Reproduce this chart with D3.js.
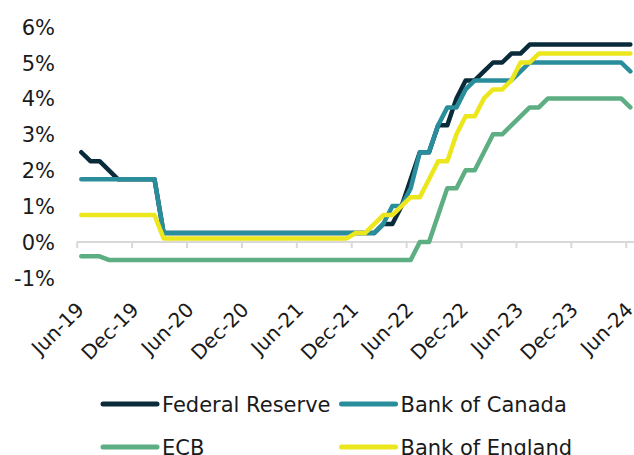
<!DOCTYPE html>
<html>
<head>
<meta charset="utf-8">
<script src="https://cdn.jsdelivr.net/npm/d3@7"></script>
<style>
  html, body { margin: 0; padding: 0; background: #fff; }
  svg { display: block; }
  text { font-family: "DejaVu Sans", Verdana, sans-serif; fill: #1a1a1a; }
</style>
</head>
<body>
<svg id="chart" width="634" height="455"></svg>
<script>
// Month-end policy rates, Jun-19 to Jun-24 (%)
const months = [
  "Jun-19","Jul-19","Aug-19","Sep-19","Oct-19","Nov-19","Dec-19",
  "Jan-20","Feb-20","Mar-20","Apr-20","May-20","Jun-20","Jul-20","Aug-20","Sep-20","Oct-20","Nov-20","Dec-20",
  "Jan-21","Feb-21","Mar-21","Apr-21","May-21","Jun-21","Jul-21","Aug-21","Sep-21","Oct-21","Nov-21","Dec-21",
  "Jan-22","Feb-22","Mar-22","Apr-22","May-22","Jun-22","Jul-22","Aug-22","Sep-22","Oct-22","Nov-22","Dec-22",
  "Jan-23","Feb-23","Mar-23","Apr-23","May-23","Jun-23","Jul-23","Aug-23","Sep-23","Oct-23","Nov-23","Dec-23",
  "Jan-24","Feb-24","Mar-24","Apr-24","May-24","Jun-24"
];

const tickLabels = ["Jun-19","Dec-19","Jun-20","Dec-20","Jun-21","Dec-21","Jun-22","Dec-22","Jun-23","Dec-23","Jun-24"];
const yTicks = [-1, 0, 1, 2, 3, 4, 5, 6];

const federalReserve = [
  2.5, 2.25, 2.25, 2.0, 1.75, 1.75, 1.75, 1.75, 1.75, 0.25,
  0.25, 0.25, 0.25, 0.25, 0.25, 0.25, 0.25, 0.25, 0.25, 0.25, 0.25, 0.25,
  0.25, 0.25, 0.25, 0.25, 0.25, 0.25, 0.25, 0.25, 0.25, 0.25, 0.25,
  0.5, 0.5, 1.0, 1.75, 2.5, 2.5, 3.25, 3.25, 4.0, 4.5,
  4.5, 4.75, 5.0, 5.0, 5.25, 5.25, 5.5,
  5.5, 5.5, 5.5, 5.5, 5.5, 5.5, 5.5, 5.5, 5.5, 5.5, 5.5
];

const bankOfCanada = [
  1.75, 1.75, 1.75, 1.75, 1.75, 1.75, 1.75, 1.75, 1.75, 0.25,
  0.25, 0.25, 0.25, 0.25, 0.25, 0.25, 0.25, 0.25, 0.25, 0.25, 0.25, 0.25,
  0.25, 0.25, 0.25, 0.25, 0.25, 0.25, 0.25, 0.25, 0.25, 0.25, 0.25,
  0.5, 1.0, 1.0, 1.5, 2.5, 2.5, 3.25, 3.75, 3.75, 4.25,
  4.5, 4.5, 4.5, 4.5, 4.5, 4.75, 5.0,
  5.0, 5.0, 5.0, 5.0, 5.0, 5.0, 5.0, 5.0, 5.0, 5.0, 4.75
];

const ecb = [
  -0.4, -0.4, -0.4, -0.5, -0.5, -0.5, -0.5, -0.5, -0.5, -0.5,
  -0.5, -0.5, -0.5, -0.5, -0.5, -0.5, -0.5, -0.5, -0.5, -0.5, -0.5, -0.5,
  -0.5, -0.5, -0.5, -0.5, -0.5, -0.5, -0.5, -0.5, -0.5, -0.5, -0.5,
  -0.5, -0.5, -0.5, -0.5, 0.0, 0.0, 0.75, 1.5, 1.5, 2.0,
  2.0, 2.5, 3.0, 3.0, 3.25, 3.5, 3.75,
  3.75, 4.0, 4.0, 4.0, 4.0, 4.0, 4.0, 4.0, 4.0, 4.0, 3.75
];

const bankOfEngland = [
  0.75, 0.75, 0.75, 0.75, 0.75, 0.75, 0.75, 0.75, 0.75, 0.1,
  0.1, 0.1, 0.1, 0.1, 0.1, 0.1, 0.1, 0.1, 0.1, 0.1, 0.1, 0.1,
  0.1, 0.1, 0.1, 0.1, 0.1, 0.1, 0.1, 0.1, 0.25, 0.25, 0.5,
  0.75, 0.75, 1.0, 1.25, 1.25, 1.75, 2.25, 2.25, 3.0, 3.5,
  3.5, 4.0, 4.25, 4.25, 4.5, 5.0, 5.0,
  5.25, 5.25, 5.25, 5.25, 5.25, 5.25, 5.25, 5.25, 5.25, 5.25, 5.25
];

const seriesNames = ["Federal Reserve", "Bank of Canada", "ECB", "Bank of England"];
const seriesValues = [federalReserve, bankOfCanada, ecb, bankOfEngland];
const seriesColors = ["#0a2b3a", "#2a8d9c", "#5dae82", "#ece71c"];

const svg = d3.select("#chart");

// Month slots: each month occupies one unit, the point sits mid-slot
const x = d3.scaleLinear().domain([0, months.length]).range([76.7, 634.9]);
const y = d3.scaleLinear().domain([-1, 6]).range([277.9, 26.6]);

// Y-axis labels only (no axis line, no gridlines)
const yAxis = d3.axisLeft(y)
  .tickValues(yTicks)
  .tickFormat(d => d + "%")
  .tickSize(0)
  .tickPadding(0);
const gy = svg.append("g").attr("transform", "translate(55,0)").call(yAxis);
gy.select(".domain").remove();
gy.selectAll("text")
  .attr("font-size", 21)
  .attr("font-family", "'DejaVu Sans', Verdana, sans-serif")
  .attr("fill", "#1a1a1a")
  .attr("dy", "0.36em");

// Category axis along the zero line; labels sit below the plot area
const tickIdx = tickLabels.map(t => months.indexOf(t));
const xAxis = d3.axisBottom(x)
  .tickValues(tickIdx)
  .tickFormat(d => months[d])
  .tickSizeInner(6)
  .tickSizeOuter(0)
  .tickPadding(0);
const gx = svg.append("g").attr("transform", `translate(0,${y(0)})`).call(xAxis);
gx.select(".domain")
  .attr("d", `M${x(0)},0H634`)
  .attr("stroke", "#d9d9d9")
  .attr("stroke-width", 2);
gx.selectAll(".tick line").attr("stroke", "#d9d9d9").attr("stroke-width", 2);
const labelDrop = y(-1) - y(0) + 33;
gx.selectAll(".tick text")
  .attr("font-size", 20)
  .attr("font-family", "'DejaVu Sans', Verdana, sans-serif")
  .attr("fill", "#1a1a1a")
  .attr("text-anchor", "end")
  .attr("dy", null)
  .attr("y", null)
  .attr("transform", `translate(8,${labelDrop}) rotate(-45)`);

// Rate lines
const line = d3.line()
  .x((d, i) => x(i + 0.5))
  .y(d => y(d));

svg.append("g").selectAll("path")
  .data(seriesValues)
  .join("path")
  .attr("d", line)
  .attr("fill", "none")
  .attr("stroke", (d, i) => seriesColors[i])
  .attr("stroke-width", 4.5)
  .attr("stroke-linejoin", "round")
  .attr("stroke-linecap", "round");

// Legend, two rows of two entries
const legendCols = [103, 341.5];
const legendRows = [404, 447];
const legend = svg.append("g").selectAll("g")
  .data(seriesNames)
  .join("g")
  .attr("transform", (d, i) => `translate(${legendCols[i % 2]},${legendRows[Math.floor(i / 2)]})`);
legend.append("line")
  .attr("x1", 0).attr("x2", 54)
  .attr("y1", 0).attr("y2", 0)
  .attr("stroke", (d, i) => seriesColors[i])
  .attr("stroke-width", 5)
  .attr("stroke-linecap", "round");
legend.append("text")
  .attr("x", 59)
  .attr("y", 0)
  .attr("dy", "0.36em")
  .attr("font-size", 21)
  .text(d => d);
</script>
</body>
</html>
